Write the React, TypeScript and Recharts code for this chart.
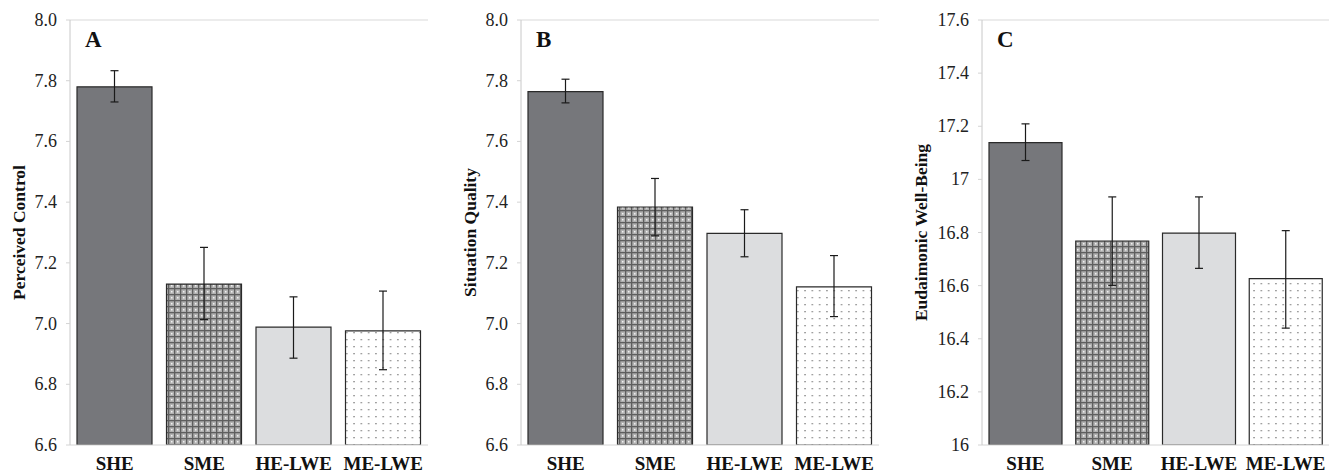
import React from 'react';
import {
  BarChart,
  Bar,
  Cell,
  XAxis,
  YAxis,
  ErrorBar,
  ReferenceArea,
  CartesianGrid,
} from 'recharts';

// groups on the x axis
const categories = ['SHE', 'SME', 'HE-LWE', 'ME-LWE'];

// A: perceived control
const controlMeans = [7.78, 7.13, 6.988, 6.976];
const controlLow = [7.73, 7.013, 6.886, 6.848];
const controlHigh = [7.833, 7.251, 7.088, 7.107];
const controlTicks = [6.6, 6.8, 7.0, 7.2, 7.4, 7.6, 7.8, 8.0];

// B: situation quality
const qualityMeans = [7.764, 7.384, 7.297, 7.121];
const qualityLow = [7.727, 7.289, 7.22, 7.023];
const qualityHigh = [7.805, 7.478, 7.375, 7.224];
const qualityTicks = [6.6, 6.8, 7.0, 7.2, 7.4, 7.6, 7.8, 8.0];

// C: eudaimonic well-being
const wellbeingMeans = [17.138, 16.768, 16.798, 16.626];
const wellbeingLow = [17.071, 16.601, 16.665, 16.44];
const wellbeingHigh = [17.209, 16.934, 16.934, 16.807];
const wellbeingTicks = [16, 16.2, 16.4, 16.6, 16.8, 17, 17.2, 17.4, 17.6];

const edgeTicks = [0, 1, 2, 3, 4];

const SERIF = 'Liberation Serif';
const fills = ['#76777b', 'url(#smePattern)', '#dcdddf', 'url(#dotPattern)'];

const buildRows = (means: number[], low: number[], high: number[]) =>
  categories.map((name, i) => ({
    name,
    value: means[i],
    err: [means[i] - low[i], high[i] - means[i]],
  }));

interface PanelProps {
  letter: string;
  title: string;
  means: number[];
  low: number[];
  high: number[];
  ticks: number[];
  fixed: boolean;
  left: number;
  width: number;
  axisWidth: number;
  titleX: number;
  rightMargin: number;
  barSize: number;
}

const Panel: React.FC<PanelProps> = (p) => {
  const data = buildRows(p.means, p.low, p.high);
  const fmt = (v: number) => (p.fixed ? v.toFixed(1) : String(Number(v.toFixed(1))));
  const yMin = p.ticks[0];
  const yMax = p.ticks[p.ticks.length - 1];

  const xTick = ({ x, y, payload }: any) => (
    <text
      x={x}
      y={y + 25}
      textAnchor="middle"
      fontFamily={SERIF}
      fontSize={19}
      fontWeight="bold"
      fill="#111"
    >
      {payload.value}
    </text>
  );

  const yTick = ({ y, payload }: any) => (
    <text
      x={p.axisWidth - 13}
      y={y + 6}
      textAnchor="end"
      fontFamily={SERIF}
      fontSize={18}
      fill="#222"
    >
      {fmt(payload.value)}
    </text>
  );

  return (
    <div style={{ position: 'absolute', left: p.left, top: 0 }}>
      <BarChart
        width={p.width}
        height={473}
        data={data}
        margin={{ top: 20, right: p.rightMargin, left: 0, bottom: 0 }}
      >
        <CartesianGrid
          xAxisId="edge"
          horizontalValues={[yMax]}
          verticalValues={[4]}
          stroke="#d9d9d9"
        />
        <XAxis
          dataKey="name"
          height={28}
          axisLine={{ stroke: '#d4d4d4' }}
          tickLine={false}
          tickSize={0}
          tickMargin={0}
          interval={0}
          tick={xTick}
        />
        <XAxis
          xAxisId="edge"
          type="number"
          domain={[0, 4]}
          ticks={edgeTicks}
          height={0}
          axisLine={false}
          tick={false}
          tickSize={5}
          tickLine={{ stroke: '#d4d4d4' }}
        />
        <YAxis
          width={p.axisWidth}
          domain={[yMin, yMax]}
          ticks={p.ticks}
          interval={0}
          allowDataOverflow
          axisLine={{ stroke: '#c8c8c8' }}
          tickLine={{ stroke: '#d4d4d4' }}
          tickSize={4}
          tick={yTick}
          label={{
            value: p.title,
            content: ({ viewBox, value }: any) => {
              const cy = viewBox.y + viewBox.height / 2;
              return (
                <text
                  x={p.titleX}
                  y={cy}
                  transform={`rotate(-90, ${p.titleX}, ${cy})`}
                  textAnchor="middle"
                  dominantBaseline="central"
                  fontFamily={SERIF}
                  fontSize={17.5}
                  fontWeight="bold"
                  fill="#111"
                >
                  {value}
                </text>
              );
            },
          }}
        />
        <ReferenceArea
          y1={yMin}
          y2={yMax}
          fill="none"
          fillOpacity={0}
          stroke="none"
          label={{
            value: p.letter,
            content: ({ viewBox, value }: any) => (
              <text
                x={viewBox.x + 15}
                y={viewBox.y + 27}
                fontFamily={SERIF}
                fontSize={23}
                fontWeight="bold"
                fill="#111"
              >
                {value}
              </text>
            ),
          }}
        />
        <Bar
          dataKey="value"
          barSize={p.barSize}
          stroke="#2a2a2a"
          strokeWidth={1.2}
          isAnimationActive={false}
        >
          {data.map((d, i) => (
            <Cell key={d.name} fill={fills[i]} />
          ))}
          <ErrorBar
            dataKey="err"
            direction="y"
            width={4}
            stroke="#1a1a1a"
            strokeWidth={1.2}
            isAnimationActive={false}
          />
        </Bar>
      </BarChart>
    </div>
  );
};

const App: React.FC = () => {
  return (
    <div
      style={{
        position: 'absolute',
        left: 0,
        top: 0,
        width: 1336,
        height: 473,
        background: '#fff',
        overflow: 'hidden',
      }}
    >
      <svg width={0} height={0} style={{ position: 'absolute' }}>
        <defs>
          <pattern id="smePattern" width={6} height={6} patternUnits="userSpaceOnUse">
            <rect width={6} height={6} fill="#b0b0b0" />
            <rect width={6} height={1.3} fill="#5e5e5e" />
            <rect width={1.3} height={6} fill="#5e5e5e" />
            <rect x={3} y={3} width={1.5} height={1.5} fill="#f0f0f0" />
          </pattern>
          <pattern id="dotPattern" width={7.3} height={7} patternUnits="userSpaceOnUse">
            <rect width={7.3} height={7} fill="#fff" />
            <rect x={3} y={3} width={1.3} height={1.3} fill="#7a7a7a" />
          </pattern>
        </defs>
      </svg>
      <Panel
        letter="A"
        title="Perceived Control"
        means={controlMeans}
        low={controlLow}
        high={controlHigh}
        ticks={controlTicks}
        fixed
        left={0}
        width={445}
        axisWidth={70}
        titleX={19}
        rightMargin={17}
        barSize={75}
      />
      <Panel
        letter="B"
        title="Situation Quality"
        means={qualityMeans}
        low={qualityLow}
        high={qualityHigh}
        ticks={qualityTicks}
        fixed
        left={451}
        width={445}
        axisWidth={70}
        titleX={19}
        rightMargin={17}
        barSize={75}
      />
      <Panel
        letter="C"
        title="Eudaimonic Well-Being"
        means={wellbeingMeans}
        low={wellbeingLow}
        high={wellbeingHigh}
        ticks={wellbeingTicks}
        fixed={false}
        left={900}
        width={436}
        axisWidth={82}
        titleX={21}
        rightMargin={7}
        barSize={73}
      />
    </div>
  );
};

export default App;
